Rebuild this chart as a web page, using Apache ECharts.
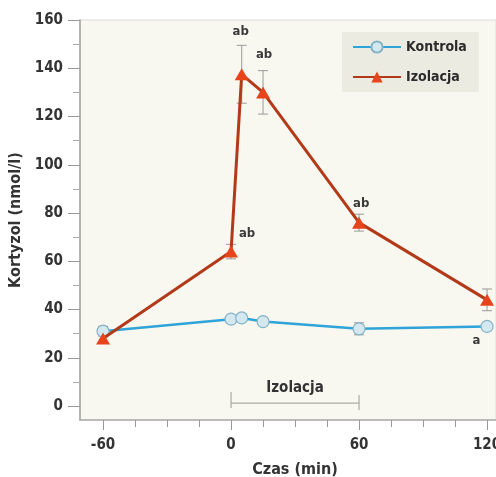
<!DOCTYPE html>
<html>
<head>
<meta charset="utf-8">
<script src="https://cdn.jsdelivr.net/npm/echarts@6/dist/echarts.min.js"></script>
<style>
html,body{margin:0;padding:0;background:#fff;}
#c{width:496px;height:477px;}
</style>
</head>
<body>
<div id="c"></div>
<script>
const times = [-60, 0, 5, 15, 60, 120];
const kontrola = [31, 36, 36.5, 35, 32, 33];
const kontrolaErr = [2, 1.5, 1.5, 1.5, 2.5, 1.5];
const izolacja = [28, 64, 137.5, 130, 76, 44];
const izolacjaErr = [2, 3, 12, 9, 3.5, 4.5];

const yTicks = [0, 20, 40, 60, 80, 100, 120, 140, 160];
const yMinorTicks = [10, 30, 50, 70, 90, 110, 130, 150];
const xTicks = [-60, 0, 60, 120];
const xMinorTicks = [-45, -30, -15, 15, 30, 45, 75, 90, 105];

const annX = [4.5, 15.5, 61, 7.5, 115];
const annY = [155, 145.5, 84, 71.5, 27];
const annText = ['ab', 'ab', 'ab', 'ab', 'a'];

const isoPeriod = [0, 60];
const isoLevel = 1.2;
const isoLabel = 'Izolacja';

const FONT = "'Liberation Sans Narrow', 'DejaVu Sans Condensed', sans-serif";
const TXT = '#333333';

const chart = echarts.init(document.getElementById('c'));

function errData(vals, errs) {
  return times.map((t, i) => [t, vals[i] - errs[i], vals[i] + errs[i]]);
}
function errRender(params, api) {
  const x = api.value(0), lo = api.value(1), hi = api.value(2);
  const p1 = api.coord([x, hi]);
  const p2 = api.coord([x, lo]);
  const w = 5;
  const st = { stroke: '#9a9a9a', lineWidth: 1 };
  return {
    type: 'group',
    children: [
      { type: 'line', shape: { x1: p1[0], y1: p1[1], x2: p2[0], y2: p2[1] }, style: st },
      { type: 'line', shape: { x1: p1[0] - w, y1: p1[1], x2: p1[0] + w, y2: p1[1] }, style: st },
      { type: 'line', shape: { x1: p2[0] - w, y1: p2[1], x2: p2[0] + w, y2: p2[1] }, style: st }
    ]
  };
}

const axisLabelFont = { fontFamily: FONT, fontWeight: 'bold', fontSize: 15, color: TXT };

chart.setOption({
  animation: false,
  backgroundColor: '#ffffff',
  grid: {
    left: 80, right: 0, top: 20, bottom: 57,
    outerBoundsMode: 'none', containLabel: false,
    show: true, backgroundColor: '#f8f7f0', borderColor: '#dddddd', borderWidth: 1
  },
  legend: {
    orient: 'vertical', left: 342, top: 32,
    backgroundColor: '#ecebe1',
    padding: [8, 12, 8, 10],
    itemWidth: 48, itemHeight: 14, itemGap: 16,
    data: ['Kontrola', 'Izolacja'],
    textStyle: { fontFamily: FONT, fontWeight: 'bold', fontSize: 14, color: '#2b2b2b' }
  },
  xAxis: [
    {
      type: 'value', min: -70.8, max: 124.2,
      name: 'Czas (min)', nameLocation: 'middle', nameGap: 42,
      nameTextStyle: { fontFamily: FONT, fontWeight: 'bold', fontSize: 16, color: TXT, padding: [0, 0, 0, 14] },
      axisLine: { show: true, onZero: false, lineStyle: { color: '#aaaaaa', width: 1.5 } },
      axisTick: { show: true, customValues: xTicks, length: 10, lineStyle: { color: '#999999' } },
      axisLabel: Object.assign({ customValues: xTicks, margin: 18 }, axisLabelFont),
      splitLine: { show: false }
    },
    {
      type: 'value', min: -70.8, max: 124.2, position: 'bottom',
      axisLine: { show: false, onZero: false },
      axisTick: { show: true, customValues: xMinorTicks, length: 7, lineStyle: { color: '#999999' } },
      axisLabel: { show: false },
      splitLine: { show: false }
    }
  ],
  yAxis: [
    {
      type: 'value', min: -5.8, max: 160,
      name: 'Kortyzol (nmol/l)', nameLocation: 'middle', nameGap: 55,
      nameTextStyle: { fontFamily: FONT, fontWeight: 'bold', fontSize: 16, color: TXT },
      axisLine: { show: true, onZero: false, lineStyle: { color: '#a0a0a0', width: 1.5 } },
      axisTick: { show: true, customValues: yTicks, length: 12, lineStyle: { color: '#999999' } },
      axisLabel: Object.assign({ customValues: yTicks, margin: 17 }, axisLabelFont),
      splitLine: { show: false }
    },
    {
      type: 'value', min: -5.8, max: 160, position: 'left',
      axisLine: { show: false, onZero: false },
      axisTick: { show: true, customValues: yMinorTicks, length: 7, lineStyle: { color: '#aaaaaa' } },
      axisLabel: { show: false },
      splitLine: { show: false }
    }
  ],
  series: [
    {
      name: 'errK', type: 'custom', renderItem: errRender, z: 1,
      data: errData(kontrola, kontrolaErr), silent: true
    },
    {
      name: 'errI', type: 'custom', renderItem: errRender, z: 1,
      data: errData(izolacja, izolacjaErr), silent: true
    },
    {
      name: 'Kontrola', type: 'line', z: 3,
      data: times.map((t, i) => [t, kontrola[i]]),
      symbol: 'circle', symbolSize: 12,
      lineStyle: { color: '#2ea4d8', width: 2.5 },
      itemStyle: { color: '#d3e8ef', borderColor: '#86b4c6', borderWidth: 1.2 }
    },
    {
      name: 'Izolacja', type: 'line', z: 4,
      data: times.map((t, i) => [t, izolacja[i]]),
      symbol: 'triangle', symbolSize: [14, 12],
      lineStyle: { color: '#b23a18', width: 3 },
      itemStyle: { color: '#e8441c' }
    },
    {
      name: 'ann', type: 'custom', z: 5, silent: true,
      data: annX.map((x, i) => [x, annY[i], i]),
      renderItem: function (params, api) {
        const p = api.coord([api.value(0), api.value(1)]);
        return {
          type: 'text', x: p[0], y: p[1],
          style: {
            text: annText[api.value(2)], fill: '#3a3a3a',
            font: "bold 13px " + FONT, align: 'center', verticalAlign: 'middle'
          }
        };
      }
    },
    {
      name: 'iso', type: 'custom', z: 2, silent: true,
      data: [[isoPeriod[0], isoPeriod[1], isoLevel]],
      renderItem: function (params, api) {
        const a = api.coord([api.value(0), api.value(2)]);
        const b = api.coord([api.value(1), api.value(2)]);
        const st = { stroke: '#9a9a9a', lineWidth: 1 };
        return {
          type: 'group',
          children: [
            { type: 'line', shape: { x1: a[0], y1: a[1], x2: b[0], y2: b[1] }, style: st },
            { type: 'line', shape: { x1: a[0], y1: a[1] - 11, x2: a[0], y2: a[1] + 5 }, style: st },
            { type: 'line', shape: { x1: b[0], y1: b[1] - 8, x2: b[0], y2: b[1] + 7 }, style: st },
            { type: 'text', x: (a[0] + b[0]) / 2, y: a[1] - 15,
              style: { text: isoLabel, fill: TXT, font: "bold 15px " + FONT, align: 'center', verticalAlign: 'middle' } }
          ]
        };
      }
    }
  ]
});
</script>
</body>
</html>
